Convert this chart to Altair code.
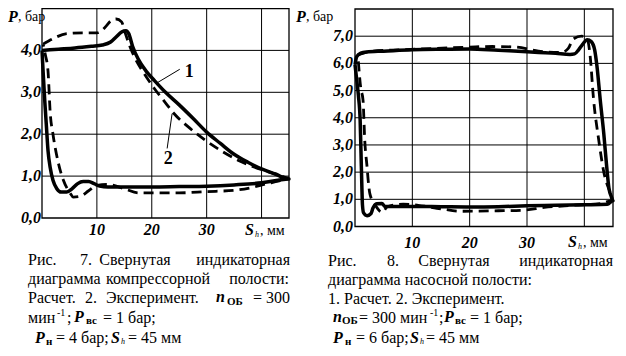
import altair as alt
import pandas as pd

# ---------------- data ----------------
# Compressor cavity (Fig. 7): S_h [mm], P [bar]
comp_calc_s = [0, 3, 6, 9, 11, 12.5, 13.5, 14.5, 15.3, 15.8, 16.5, 17.5, 19, 20.5, 22.5, 25, 27.5,
               30, 32.5, 35, 37.5, 40, 42.5, 45,
               43, 40, 35, 30, 25, 20, 15, 12, 10.5, 9.5, 8.5, 7.5, 6.5, 5.5, 4.5, 3.5, 2.7,
               2.0, 1.5, 1.1, 0.8, 0.5, 0.2, 0]
comp_calc_p = [4.0, 4.03, 4.06, 4.1, 4.13, 4.2, 4.32, 4.44, 4.47, 4.4, 4.1, 3.8, 3.5, 3.28, 3.0, 2.7, 2.38,
               2.05, 1.78, 1.52, 1.33, 1.17, 1.05, 0.93,
               0.9, 0.84, 0.79, 0.76, 0.75, 0.74, 0.74, 0.74, 0.76, 0.82, 0.87, 0.87, 0.82, 0.7, 0.62, 0.62, 0.7,
               0.9, 1.2, 1.6, 2.2, 2.8, 3.5, 4.0]
comp_exp_s = [0.2, 2, 4.5, 7.5, 10, 11.5, 12.5, 13.5, 14.5, 15.2, 16, 17, 18.6, 20.7, 22.5, 24, 26.6,
              29.6, 32.7, 35.7, 38, 40.6, 43, 45,
              43, 41, 38, 35, 30, 25, 20, 17.6, 15, 12, 10, 8.5, 7, 5.7,
              5.1, 3.9, 3.0, 2.0, 1.5, 1.1, 0.6, 0.2]
comp_exp_p = [4.15, 4.28, 4.4, 4.42, 4.42, 4.55, 4.7, 4.75, 4.68, 4.4, 4.1, 3.8, 3.45, 3.05, 2.75, 2.5, 2.18,
              1.87, 1.6, 1.38, 1.25, 1.13, 1.03, 0.95,
              0.88, 0.82, 0.72, 0.66, 0.63, 0.6, 0.6, 0.6, 0.7, 0.8, 0.78, 0.65, 0.52, 0.5,
              0.6, 0.9, 1.3, 2.0, 2.5, 3.5, 3.9, 4.15]

# Pump cavity (Fig. 8)
pump_calc_s = [0, 0.3, 1, 2, 5, 10, 15, 20, 25, 30, 35, 37.5, 38.3, 39, 39.7, 40.5, 41.2, 41.8, 42.2,
               42.8, 43.4, 43.9, 44.3, 44.7, 45,
               44, 40, 35, 30, 25, 20, 15, 10, 6, 5.2, 4.7, 3.8, 3.1, 2.8, 2.1, 1.5, 1.3, 1.2, 1.05,
               0.9, 0.6, 0.35, 0]
pump_calc_p = [5.95, 6.25, 6.38, 6.42, 6.45, 6.5, 6.52, 6.53, 6.48, 6.43, 6.37, 6.33, 6.35, 6.5, 6.7, 6.87,
               6.8, 6.5, 5.9, 4.6, 3.4, 2.2, 1.4, 1.1, 0.95,
               0.82, 0.8, 0.78, 0.76, 0.73, 0.72, 0.73, 0.74, 0.74, 0.74, 0.85, 0.84, 0.66, 0.48, 0.4, 0.5,
               0.8, 1.45, 2.7, 3.9, 4.8, 5.3, 5.95]
pump_exp_s = [0.5, 3, 8, 14, 20, 24, 28, 32, 36, 37.2, 38.1, 39.5, 40.5, 41, 41.6, 42.5, 43.4, 44.6, 45,
              43, 38, 33, 29.4, 25, 18.4, 15, 11, 8.4, 5.6, 4.8, 3.5, 2.6, 2.3, 2.1, 1.7, 1.4, 1.0, 0.5]
pump_exp_p = [6.3, 6.45, 6.5, 6.55, 6.6, 6.62, 6.6, 6.45, 6.4, 6.55, 6.9, 7.0, 6.9, 6.3, 4.7, 3.2, 2.0, 1.2, 0.96,
              0.85, 0.78, 0.7, 0.6, 0.58, 0.56, 0.65, 0.78, 0.82, 0.72, 0.52, 0.8, 1.2, 1.7, 2.2, 3.17, 4.65,
              5.1, 6.3]

x_grid = [10, 20, 30, 40]
x_tick_labels = [10, 20, 30]
comp_y_ticks = [0, 1, 2, 3, 4]
pump_y_ticks = [0, 1, 2, 3, 4, 5, 6, 7]
comp_y_max = 5
pump_y_max = 8
s_max = 45

# ---------------- styling ----------------
W, H = 610, 340
SERIF = "'Liberation Serif', 'Times New Roman', 'DejaVu Serif', serif"
BLACK = "#000000"


def path_df(s, p):
    return pd.DataFrame({"s": s, "p": p, "i": list(range(len(s)))})


def fmt_p(v):
    return f"{v:.1f}".replace(".", ",")


def panel(calc, exp, y_ticks, y_max, xr, yr, x_lab_dy, y_lab_dx, extras=()):
    xs = alt.Scale(domain=[0, s_max], range=xr, nice=False, zero=False)
    ys = alt.Scale(domain=[0, y_max], range=yr, nice=False, zero=False)
    X = lambda f: alt.X(f, scale=xs, axis=None)
    Y = lambda f: alt.Y(f, scale=ys, axis=None)

    frame_df = pd.DataFrame({"x0": [0], "x1": [s_max], "y0": [0], "y1": [y_max]})
    frame = alt.Chart(frame_df).mark_rect(fill="white", stroke=BLACK, strokeWidth=1.3).encode(
        x=X("x0:Q"), x2="x1:Q", y=Y("y0:Q"), y2="y1:Q")

    vg = alt.Chart(pd.DataFrame({"s": x_grid, "y0": 0, "y1": y_max})).mark_rule(
        color=BLACK, strokeWidth=1).encode(x=X("s:Q"), y=Y("y0:Q"), y2="y1:Q")
    hg = alt.Chart(pd.DataFrame({"p": y_ticks[1:], "x0": 0, "x1": s_max})).mark_rule(
        color=BLACK, strokeWidth=1).encode(y=Y("p:Q"), x=X("x0:Q"), x2="x1:Q")

    # tick labels placed through the scales
    ylab = alt.Chart(pd.DataFrame({"p": y_ticks, "x0": 0, "t": [fmt_p(v) for v in y_ticks]})).mark_text(
        font=SERIF, fontSize=16, fontWeight="bold", fontStyle="italic", color=BLACK,
        align="right", baseline="middle", dx=y_lab_dx).encode(x=X("x0:Q"), y=Y("p:Q"), text="t:N")
    xlab = alt.Chart(pd.DataFrame({"s": x_tick_labels, "y0": 0,
                                   "t": [str(v) for v in x_tick_labels]})).mark_text(
        font=SERIF, fontSize=16, fontWeight="bold", fontStyle="italic", color=BLACK,
        align="center", baseline="middle", dy=x_lab_dy).encode(x=X("s:Q"), y=Y("y0:Q"), text="t:N")

    solid = alt.Chart(path_df(*calc)).mark_line(
        color=BLACK, strokeWidth=3.5, interpolate="monotone", strokeJoin="round").encode(
        x=X("s:Q"), y=Y("p:Q"), order="i:Q")
    dashed = alt.Chart(path_df(*exp)).mark_line(
        color=BLACK, strokeWidth=2.8, strokeDash=[10, 6], interpolate="monotone").encode(
        x=X("s:Q"), y=Y("p:Q"), order="i:Q")

    layers = [frame, vg, hg, ylab, xlab, dashed, solid]
    for ex in extras:
        layers.append(ex(X, Y))
    return alt.layer(*layers)


# leader lines + labels "1", "2" on the compressor panel
lead_df = pd.DataFrame({"s0": [20.9, 23.7], "p0": [3.22, 2.49], "s1": [25.1, 22.8], "p1": [3.55, 1.66]})
num_df = pd.DataFrame({"s": [26.0, 22.2], "p": [3.48, 1.42], "t": ["1", "2"]})


def leaders(X, Y):
    return alt.Chart(lead_df).mark_rule(color=BLACK, strokeWidth=1).encode(
        x=X("s0:Q"), y=Y("p0:Q"), x2="s1:Q", y2="p1:Q")


def numbers(X, Y):
    return alt.Chart(num_df).mark_text(font=SERIF, fontSize=18, fontWeight="bold", color=BLACK,
                                       align="left", baseline="middle").encode(
        x=X("s:Q"), y=Y("p:Q"), text="t:N")


left = panel((comp_calc_s, comp_calc_p), (comp_exp_s, comp_exp_p), comp_y_ticks, comp_y_max,
             [34, 281], [210, 0.5], x_lab_dy=12, y_lab_dx=-1, extras=(leaders, numbers))
right = panel((pump_calc_s, pump_calc_p), (pump_exp_s, pump_exp_p), pump_y_ticks, pump_y_max,
              [347, 605], [218.5, 1], x_lab_dy=16, y_lab_dx=-2)

one = pd.DataFrame({"a": [0]})


def txt(s, x, y, size=16, weight="normal", style="normal", align="left"):
    # x, y given in page pixels; the view starts 8px in
    return alt.Chart(one).mark_text(text=s, x=x - 8, y=y - 8, font=SERIF, fontSize=size,
                                    fontWeight=weight, fontStyle=style, align=align,
                                    baseline="middle", color=BLACK)


texts = []
# axis titles
for (px, py) in [(8, 17), (296, 17)]:
    texts.append(txt("P", px, py, 16, "bold", "italic"))
    texts.append(txt(", бар", px + 10, py, 14))
for (px, py) in [(245, 230), (568, 242)]:
    texts.append(txt("S", px, py, 16, "bold", "italic"))
    texts.append(txt("h", px + 10, py + 5, 8, "normal", "italic"))
    texts.append(txt(", мм", px + 15, py + 1, 14))

# caption Fig. 7
texts += [
    txt("Рис.", 28, 260), txt("7.", 86, 260, align="center"), txt("Свернутая", 135, 260, align="center"),
    txt("индикаторная", 290, 260, align="right"),
    txt("диаграмма", 28, 279), txt("компрессорной", 158, 279, align="center"),
    txt("полости:", 289, 279, align="right"),
    txt("Расчет.", 28, 298), txt("2.", 91, 298, align="center"), txt("Эксперимент.", 106, 298),
    txt("n", 216, 297, 16, "bold", "italic"), txt("ОБ", 227, 302, 11, "bold"),
    txt("= 300", 290, 298, align="right"),
    txt("мин", 28, 318), txt("-1", 57, 313, 10), txt(";", 67, 318),
    txt("P", 74, 317, 16, "bold", "italic"), txt("вс", 86, 321, 11, "bold"), txt("= 1 бар;", 103, 318),
    txt("P", 35, 338, 16, "bold", "italic"), txt("н", 46, 342, 11, "bold"), txt("= 4 бар;", 56, 338),
    txt("S", 111, 338, 16, "bold", "italic"), txt("h", 121, 342, 8, "normal", "italic"),
    txt("= 45 мм", 128, 338),
]
# caption Fig. 8
texts += [
    txt("Рис.", 328, 261), txt("8.", 393, 261, align="center"), txt("Свернутая", 454, 261, align="center"),
    txt("индикаторная", 613, 261, align="right"),
    txt("диаграмма насосной полости:", 328, 280),
    txt("1. Расчет. 2. Эксперимент.", 328, 299),
    txt("n", 333, 317, 16, "bold", "italic"), txt("ОБ", 342, 321, 11, "bold"),
    txt("= 300 мин", 359, 318), txt("-1", 430, 313, 10), txt(";", 439, 318),
    txt("P", 444, 317, 16, "bold", "italic"), txt("вс", 455, 321, 11, "bold"), txt("= 1 бар;", 470, 318),
    txt("P", 333, 338, 16, "bold", "italic"), txt("н", 345, 342, 11, "bold"), txt("= 6 бар;", 356, 338),
    txt("S", 410, 338, 16, "bold", "italic"), txt("h", 420, 342, 8, "normal", "italic"),
    txt("= 45 мм", 426, 338),
]

chart = alt.layer(left, right, *texts).resolve_scale(x="independent", y="independent").properties(
    width=W, height=H, autosize=alt.AutoSizeParams(type="none"), padding=0,
    background="white").configure_view(stroke=None)

chart.save("out.html", embed_options={"renderer": "svg", "actions": False})
